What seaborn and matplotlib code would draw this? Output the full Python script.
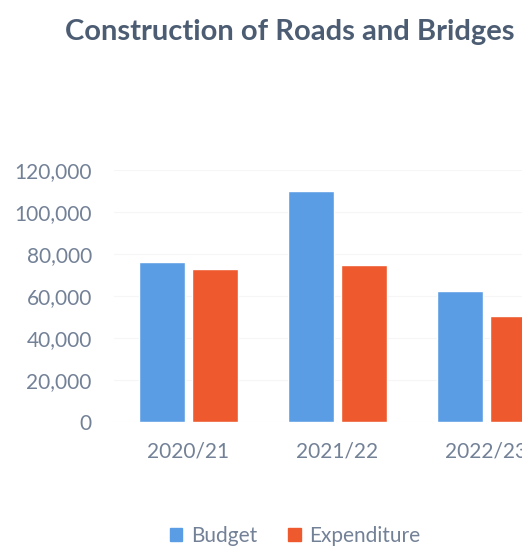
import numpy as np
import pandas as pd
import seaborn as sns
import matplotlib.pyplot as plt

# values
years = ["2020/21", "2021/22", "2022/23"]
budget = [76000, 110000, 62500]
expenditure = [73000, 75000, 50500]
series_names = ["Budget", "Expenditure"]
yticks = [0, 20000, 40000, 60000, 80000, 100000, 120000]

df = pd.DataFrame({
    "year": years * 2,
    "value": budget + expenditure,
    "series": [series_names[0]] * 3 + [series_names[1]] * 3,
})

sns.set_style("white")
plt.rcParams['font.family'] = ['Lato', 'DejaVu Sans']

text_col = "#738197"
fig = plt.figure(figsize=(5.22, 5.46), dpi=100)
# the original is cropped on the right, so the axes run past the figure edge
ax = fig.add_axes([114 / 522, 1 - 422 / 546, 447 / 522, 252 / 546])

sns.barplot(data=df, x="year", y="value", hue="series",
            palette=["#5b9de4", "#ee5a2e"], width=0.7, gap=0.12,
            saturation=1, legend=False, ax=ax)

ax.set_ylim(0, 120000)
ax.set_yticks(yticks)
ax.set_yticklabels([f"{v:,}" for v in yticks])
ax.set_xlabel("")
ax.set_ylabel("")
ax.tick_params(axis="both", colors=text_col, labelsize=15, length=0)
ax.tick_params(axis="x", pad=14)
ax.tick_params(axis="y", pad=16)
ax.yaxis.grid(True, color="#f6f6f6", linewidth=0.8)
ax.set_axisbelow(True)
sns.despine(ax=ax, left=True, bottom=True, top=True, right=True)

fig.text(290 / 522, 1 - 32 / 546, "Construction of Roads and Bridges",
         ha="center", va="center", fontsize=21, fontweight="bold", color="#4c5d73")

handles = [plt.Rectangle((0, 0), 1, 1, color=c) for c in ["#5b9de4", "#ee5a2e"]]
fig.legend(handles, series_names, loc="center", bbox_to_anchor=(295 / 522, 1 - 536 / 546),
           ncol=2, frameon=False, fontsize=15, labelcolor=text_col,
           handlelength=0.6, handleheight=0.6, handletextpad=0.4, columnspacing=1.5)

fig.savefig("out.png", dpi=100)
